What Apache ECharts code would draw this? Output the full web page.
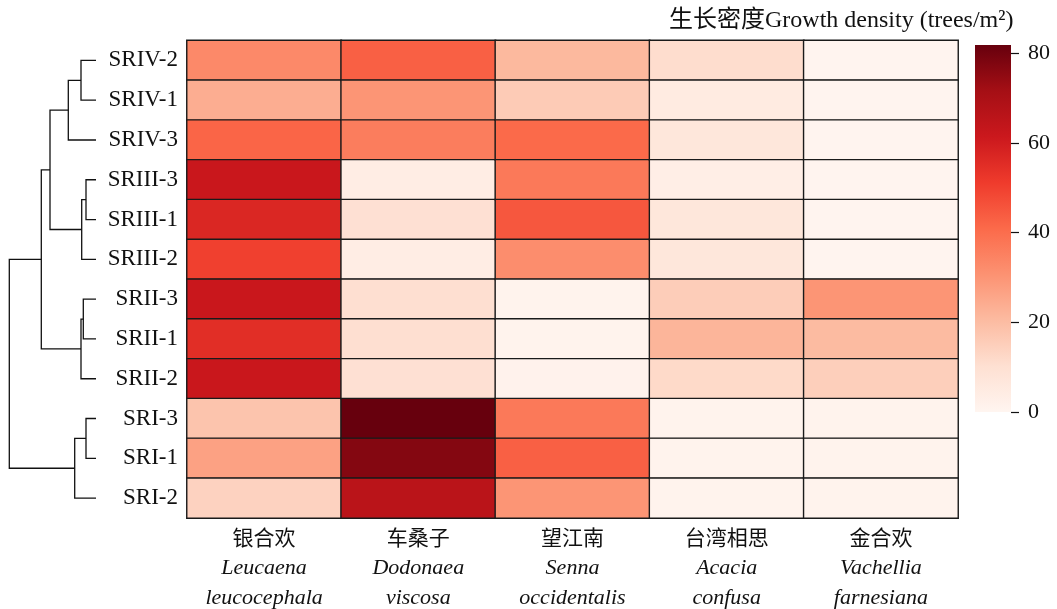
<!DOCTYPE html>
<html>
<head>
<meta charset="utf-8">
<script src="https://cdn.jsdelivr.net/npm/echarts@6/dist/echarts.min.js"></script>
<style>
  html, body { margin: 0; padding: 0; background: #fff; }
  #chart { width: 1057px; height: 609px; }
</style>
</head>
<body>
<div id="chart"></div>
<script>
// Plots (rows, top to bottom in dendrogram leaf order)
const plots = ['SRIV-2', 'SRIV-1', 'SRIV-3', 'SRIII-3', 'SRIII-1', 'SRIII-2',
               'SRII-3', 'SRII-1', 'SRII-2', 'SRI-3', 'SRI-1', 'SRI-2'];

// Species (columns)
const speciesCn = ['银合欢', '车桑子', '望江南', '台湾相思', '金合欢'];
const speciesLatin = [
  ['Leucaena', 'leucocephala'],
  ['Dodonaea', 'viscosa'],
  ['Senna', 'occidentalis'],
  ['Acacia', 'confusa'],
  ['Vachellia', 'farnesiana']
];

// Growth density (trees/m²) per species, one value per plot in the order above
const leucaena  = [33, 24, 42, 62, 57, 50, 62, 55, 62, 18, 27, 14];
const dodonaea  = [43, 30, 36, 4, 10, 4, 10.5, 10.5, 10, 81.8, 77, 66];
const senna     = [21, 16, 41, 37, 45, 32, 1, 1, 1.5, 37, 43, 30];
const acacia    = [11, 5, 7, 3.5, 7, 7, 15.5, 22, 12, 1, 1, 1];
const vachellia = [0.5, 0.5, 0.5, 0.5, 0.5, 0.5, 30, 20.5, 15, 1, 1, 1];

// Colour bar range and ticks
const densityMax = 81.8;
const colorbarTicks = [0, 20, 40, 60, 80];

// Hierarchical clustering of plots: [childA, childB, distance]
// Leaves are 0..11 (plot index); merged clusters get ids 12, 13, ...
const linkage = [
  [0, 1, 15],      // 12
  [12, 2, 27.7],   // 13
  [3, 4, 10],      // 14
  [14, 5, 14.3],   // 15
  [13, 15, 46],    // 16
  [6, 7, 12.7],    // 17
  [17, 8, 15],     // 18
  [16, 18, 54.7],  // 19
  [9, 10, 10],     // 20
  [20, 11, 21.3],  // 21
  [19, 21, 86.7]   // 22
];

// Reds colour ramp
const reds = ['#fff5f0', '#fee0d2', '#fcbba1', '#fc9272', '#fb6a4a',
              '#ef3b2c', '#cb181d', '#a50f15', '#67000d'];

// ---- build heatmap cells ----
const columns = [leucaena, dodonaea, senna, acacia, vachellia];
const cells = [];
columns.forEach((vals, c) => {
  vals.forEach((v, r) => cells.push([c, r, v]));
});

// ---- build dendrogram links (U shapes) ----
const nodePos = {}; // id -> {y, h}
plots.forEach((_, i) => { nodePos[i] = { y: i + 0.5, h: 0 }; });
const links = [];
linkage.forEach((m, k) => {
  const a = nodePos[m[0]], b = nodePos[m[1]];
  links.push([a.h, a.y, m[2], b.y, b.h]);
  nodePos[plots.length + k] = { y: (a.y + b.y) / 2, h: m[2] };
});
const rootHeight = linkage[linkage.length - 1][2];

const serif = '"Liberation Serif", "Times New Roman", "Noto Sans CJK SC", serif';
const cjk = '"Noto Sans CJK SC", "Liberation Serif", sans-serif';

const heatTop = 40.5, heatHeight = 477.5;

const chart = echarts.init(document.getElementById('chart'), null, { renderer: 'canvas' });

chart.setOption({
  backgroundColor: '#fff',
  animation: false,
  title: {
    text: '生长密度Growth density (trees/m²)',
    left: 664,
    top: 4,
    textStyle: { fontFamily: serif, fontSize: 24, fontWeight: 'normal', color: '#111' }
  },
  grid: [
    // heatmap
    { left: 187, top: heatTop, width: 771, height: heatHeight },
    // dendrogram
    { left: 9.3, top: heatTop, width: 86.7, height: heatHeight },
    // colour bar
    { left: 975, top: 45, width: 36, height: 367 }
  ],
  xAxis: [
    {
      gridIndex: 0,
      type: 'category',
      data: speciesCn,
      boundaryGap: true,
      axisLine: { show: true, lineStyle: { color: '#111', width: 1.2 } },
      axisTick: { show: true, inside: true, alignWithLabel: true, length: 8,
                  lineStyle: { color: '#111', width: 1.2 } },
      axisLabel: {
        margin: 3,
        interval: 0,
        formatter: (val, idx) =>
          '{cn|' + val + '}\n{it|' + speciesLatin[idx][0] + '}\n{it|' + speciesLatin[idx][1] + '}',
        rich: {
          cn: { fontFamily: cjk, fontSize: 21, lineHeight: 32, color: '#111' },
          it: { fontFamily: serif, fontStyle: 'italic', fontSize: 22, lineHeight: 30, color: '#111' }
        }
      },
      splitLine: { show: false }
    },
    {
      gridIndex: 1, type: 'value', min: 0, max: rootHeight, inverse: true, show: false
    },
    {
      gridIndex: 2, type: 'value', min: 0, max: 1, show: false
    }
  ],
  yAxis: [
    {
      gridIndex: 0,
      type: 'category',
      data: plots,
      inverse: true,
      boundaryGap: true,
      axisLine: { show: true, lineStyle: { color: '#111', width: 1.2 } },
      axisTick: { show: true, inside: true, alignWithLabel: true, length: 10,
                  lineStyle: { color: '#111', width: 1.2 } },
      axisLabel: { margin: 9, fontFamily: serif, fontSize: 23, color: '#111' },
      splitLine: { show: false }
    },
    {
      gridIndex: 1, type: 'value', min: 0, max: plots.length, inverse: true, show: false
    },
    {
      gridIndex: 2,
      type: 'value',
      position: 'right',
      min: 0,
      max: densityMax,
      axisLine: { show: false, onZero: false },
      axisTick: { show: true, inside: false, length: 8, customValues: colorbarTicks,
                  lineStyle: { color: '#111', width: 1.2 } },
      axisLabel: { margin: 17, fontFamily: serif, fontSize: 22, color: '#111',
                   customValues: colorbarTicks },
      splitLine: { show: false }
    }
  ],
  visualMap: {
    show: false,
    type: 'continuous',
    seriesIndex: 0,
    dimension: 2,
    min: 0,
    max: densityMax,
    inRange: { color: reds }
  },
  series: [
    {
      type: 'heatmap',
      xAxisIndex: 0,
      yAxisIndex: 0,
      data: cells,
      itemStyle: { borderColor: '#1a1a1a', borderWidth: 1.4 },
      emphasis: { disabled: true }
    },
    {
      type: 'custom',
      xAxisIndex: 1,
      yAxisIndex: 1,
      data: links,
      silent: true,
      renderItem: (params, api) => {
        const hA = api.value(0), yA = api.value(1), h = api.value(2),
              yB = api.value(3), hB = api.value(4);
        const pts = [api.coord([hA, yA]), api.coord([h, yA]),
                     api.coord([h, yB]), api.coord([hB, yB])];
        return {
          type: 'polyline',
          shape: { points: pts },
          style: { stroke: '#111', lineWidth: 1.3, fill: null }
        };
      }
    },
    {
      type: 'custom',
      xAxisIndex: 2,
      yAxisIndex: 2,
      data: [[0, 1, 0, densityMax]],
      silent: true,
      renderItem: (params, api) => {
        const p0 = api.coord([api.value(0), api.value(3)]);
        const p1 = api.coord([api.value(1), api.value(2)]);
        const stops = reds.map((c, i) => ({ offset: i / (reds.length - 1), color: c }));
        return {
          type: 'rect',
          shape: { x: p0[0], y: p0[1], width: p1[0] - p0[0], height: p1[1] - p0[1] },
          style: {
            fill: { type: 'linear', x: 0, y: 1, x2: 0, y2: 0, colorStops: stops }
          }
        };
      }
    }
  ]
});
</script>
</body>
</html>
